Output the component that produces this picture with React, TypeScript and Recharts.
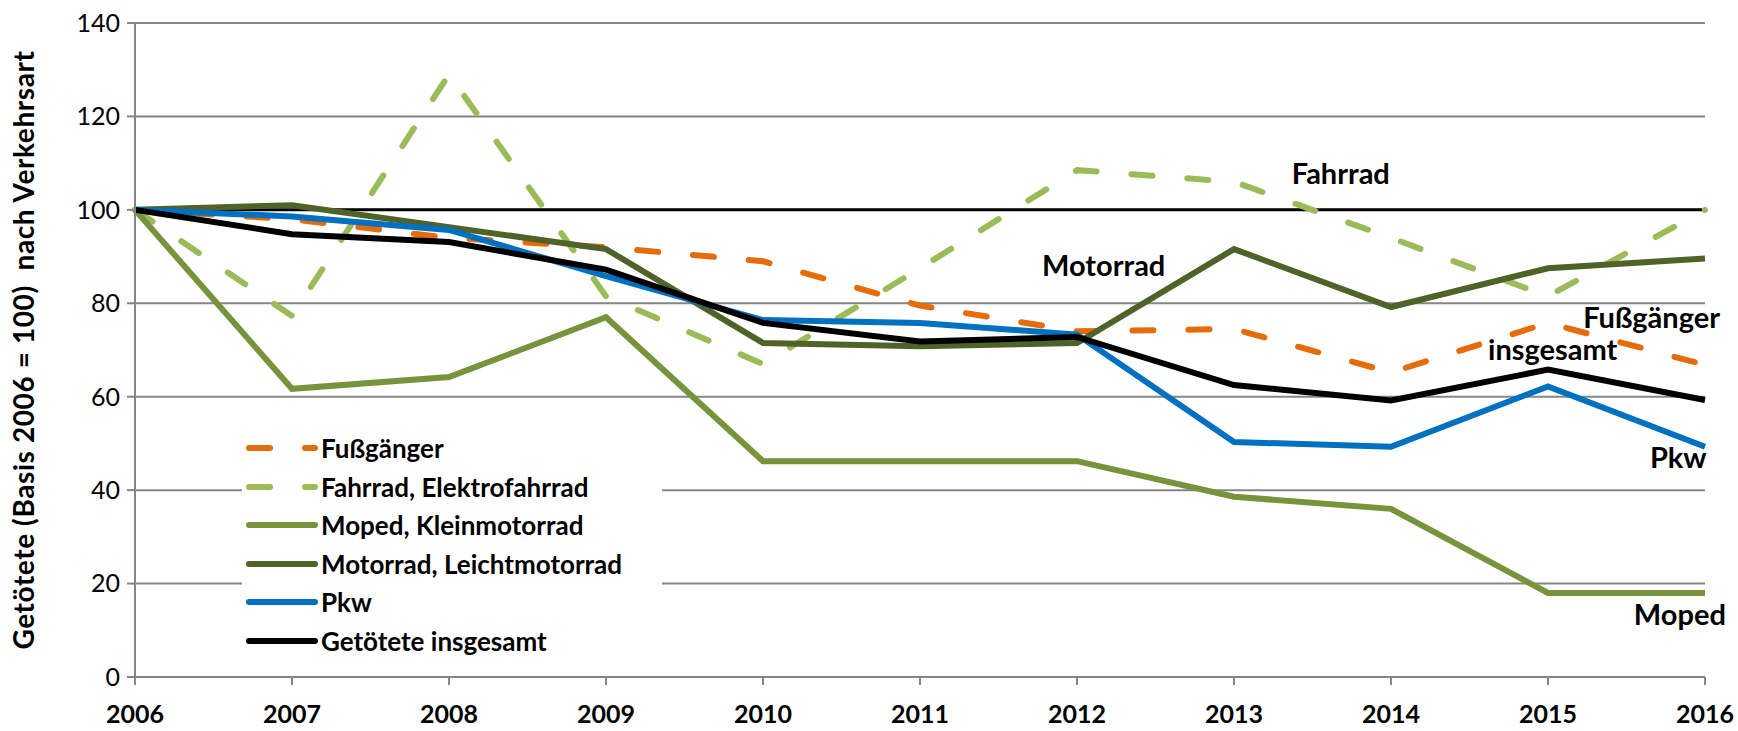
import {
  LineChart,
  Line,
  XAxis,
  YAxis,
  CartesianGrid,
  Legend,
  ReferenceLine,
  ReferenceDot,
} from 'recharts';

const years = [2006, 2007, 2008, 2009, 2010, 2011, 2012, 2013, 2014, 2015, 2016];
const fussgaenger = [100, 98, 94, 92, 89, 79.5, 74, 74.5, 65.2, 75.8, 66.8];
const fahrrad = [100, 77.3, 129, 81.5, 67, 87.5, 108.5, 106, 94, 81.5, 100];
const moped = [100, 61.7, 64.2, 77, 46.2, 46.2, 46.2, 38.6, 36, 18, 18];
const motorrad = [100, 101, 96.3, 91.6, 71.5, 70.8, 71.5, 91.6, 79.2, 87.5, 89.6];
const pkw = [100, 98.6, 95.7, 85.8, 76.4, 75.8, 73.3, 50.3, 49.3, 62.2, 49.3];
const insgesamt = [100, 94.8, 93.1, 87.2, 75.8, 71.8, 72.8, 62.5, 59.2, 65.8, 59.3];
const yTicks = [0, 20, 40, 60, 80, 100, 120, 140];

const series = [
  { key: 'fussgaenger', name: 'Fußgänger', color: '#E46C0A', dashed: true },
  { key: 'fahrrad', name: 'Fahrrad, Elektrofahrrad', color: '#9BBB59', dashed: true },
  { key: 'moped', name: 'Moped, Kleinmotorrad', color: '#77933C', dashed: false },
  { key: 'motorrad', name: 'Motorrad, Leichtmotorrad', color: '#4F6228', dashed: false },
  { key: 'pkw', name: 'Pkw', color: '#0070C0', dashed: false },
  { key: 'insgesamt', name: 'Getötete insgesamt', color: '#000000', dashed: false },
];

// text labels next to the lines (placed in data units)
const notes = [
  { text: 'Fahrrad', x: 2013.68, y: 107.7 },
  { text: 'Motorrad', x: 2012.17, y: 88 },
  { text: 'Fußgänger', x: 2015.66, y: 76.9 },
  { text: 'insgesamt', x: 2015.03, y: 70 },
  { text: 'Pkw', x: 2015.83, y: 46.9 },
  { text: 'Moped', x: 2015.84, y: 13.3 },
];

const data = years.map((year, i) => ({
  year,
  fussgaenger: fussgaenger[i],
  fahrrad: fahrrad[i],
  moped: moped[i],
  motorrad: motorrad[i],
  pkw: pkw[i],
  insgesamt: insgesamt[i],
}));

const FONT = 'Lato, "Open Sans", sans-serif';
const DASH = '21 35';

const renderLegend = () => (
  <div style={{ background: '#fff', width: 420 }}>
    {series.map((s) => (
      <div
        key={s.key}
        style={{ display: 'flex', alignItems: 'center', height: 38.5 }}
      >
        <svg width={76} height={12}>
          <line
            x1={7}
            y1={6}
            x2={73}
            y2={6}
            stroke={s.color}
            strokeWidth={6}
            strokeLinecap="round"
            strokeDasharray={s.dashed ? DASH : undefined}
          />
        </svg>
        <span
          style={{
            fontFamily: FONT,
            fontWeight: 700,
            fontSize: 26,
            marginLeft: 3,
            color: '#000',
            whiteSpace: 'nowrap',
          }}
        >
          {s.name}
        </span>
      </div>
    ))}
  </div>
);

export default function App() {
  return (
    <div style={{ position: 'absolute', left: 0, top: 0 }}>
      <LineChart
        width={1738}
        height={731}
        data={data}
        margin={{ top: 23, right: 33, bottom: 0, left: 0 }}
      >
        <CartesianGrid vertical={false} stroke="#868686" strokeWidth={2} />
        <XAxis
          dataKey="year"
          type="number"
          domain={[2006, 2016]}
          ticks={years}
          interval={0}
          height={54}
          tickSize={8}
          tickMargin={20}
          stroke="#868686"
          strokeWidth={2}
          tick={{ fontFamily: FONT, fontWeight: 700, fontSize: 25, fill: '#000' }}
        />
        <YAxis
          domain={[0, 140]}
          ticks={yTicks}
          interval={0}
          width={135}
          tickSize={8}
          tickMargin={7}
          stroke="#868686"
          strokeWidth={2}
          tick={{ fontFamily: FONT, fontSize: 25, fill: '#000' }}
          label={{
            value: 'Getötete (Basis 2006 = 100)\u00A0 nach Verkehrsart',
            angle: -90,
            position: 'insideLeft',
            offset: 24,
            style: {
              textAnchor: 'middle',
              fontFamily: FONT,
              fontWeight: 700,
              fontSize: 28,
              letterSpacing: 0.6,
              fill: '#000',
            },
          }}
        />
        <ReferenceLine y={100} stroke="#000" strokeWidth={3} />
        <Legend
          layout="vertical"
          align="center"
          verticalAlign="middle"
          content={renderLegend}
          wrapperStyle={{ left: 242, top: 429, width: 420 }}
        />
        {series.map((s) => (
          <Line
            key={s.key}
            type="linear"
            dataKey={s.key}
            name={s.name}
            stroke={s.color}
            strokeWidth={6}
            strokeDasharray={s.dashed ? DASH : undefined}
            strokeLinecap={s.dashed ? 'round' : 'butt'}
            dot={false}
            activeDot={false}
            isAnimationActive={false}
          />
        ))}
        {notes.map((n) => (
          <ReferenceDot
            key={n.text}
            x={n.x}
            y={n.y}
            r={0}
            stroke="none"
            fill="none"
            label={{
              value: n.text,
              position: 'center',
              fill: '#000',
              fontFamily: FONT,
              fontWeight: 700,
              fontSize: 29,
            }}
          />
        ))}
      </LineChart>
    </div>
  );
}
